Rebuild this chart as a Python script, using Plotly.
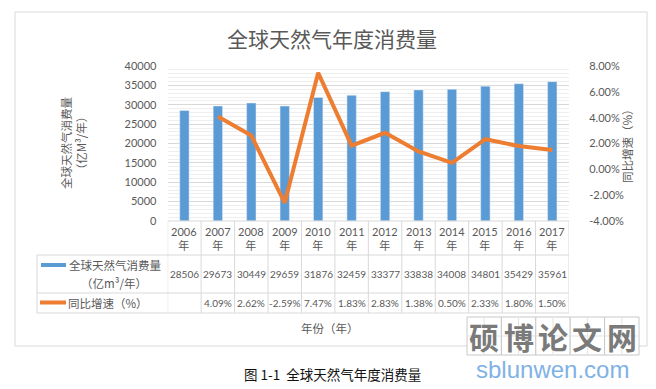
import plotly.graph_objects as go

# ---- data ----
years = ["2006", "2007", "2008", "2009", "2010", "2011", "2012", "2013", "2014", "2015", "2016", "2017"]
consumption = [28506, 29673, 30449, 29659, 31876, 32459, 33377, 33838, 34008, 34801, 35429, 35961]
growth = [None, 4.09, 2.62, -2.59, 7.47, 1.83, 2.83, 1.38, 0.50, 2.33, 1.80, 1.50]
y1_ticks = [0, 5000, 10000, 15000, 20000, 25000, 30000, 35000, 40000]
y2_ticks = [-4, -2, 0, 2, 4, 6, 8]
y2_ticktext = ["-4.00%", "-2.00%", "0.00%", "2.00%", "4.00%", "6.00%", "8.00%"]
series1_name = "全球天然气消费量"
series1_unit = "（亿m³/年）"
series2_name = "同比增速（%）"

W, H = 656, 389
FONT = "Lato, 'Noto Sans CJK SC', sans-serif"
CJK = "'Noto Sans CJK SC', sans-serif"
GREY = "#595959"
LINE = "#D9D9D9"
BLUE = "#5B9BD5"
ORANGE = "#ED7D31"


def px(x):
    return x / W


def py(y):
    return 1 - y / H


x_left, x_right = 167.7, 569.0
y_top, y_bot = 66.0, 221.0

cats = [f"{y}年" for y in years]

fig = go.Figure()
fig.add_trace(go.Bar(x=cats, y=consumption, marker_color=BLUE, width=0.28,
                     name=series1_name, yaxis="y"))
fig.add_trace(go.Scatter(x=cats, y=growth, mode="lines", line=dict(color=ORANGE, width=4),
                         name=series2_name, yaxis="y2", connectgaps=False))

shapes = []
annotations = []


def ann(x, y, text, size, family=CJK, color=GREY, xanchor="center", xref="paper", **kw):
    annotations.append(dict(x=x, y=y, xref=xref, yref="paper", text=text, showarrow=False,
                            xanchor=xanchor, yanchor="middle",
                            font=dict(family=family, size=size, color=color), **kw))


# chart border
shapes.append(dict(type="rect", xref="paper", yref="paper", x0=px(15), x1=px(647), y0=py(12), y1=py(346),
                   line=dict(color=LINE, width=1), fillcolor="rgba(0,0,0,0)", layer="below"))

# table rows (pixel y)
r0, r1, r2, r3 = 221.0, 255.0, 293.0, 313.0
shapes.append(dict(type="line", xref="x", yref="paper", x0=-0.5, x1=11.5, y0=py(r0), y1=py(r0),
                   line=dict(color=LINE, width=1)))
for ry in (r1, r2, r3):
    shapes.append(dict(type="line", xref="paper", yref="paper", x0=px(37), x1=px(x_right), y0=py(ry), y1=py(ry),
                       line=dict(color=LINE, width=1)))
for i in range(len(years) + 1):
    shapes.append(dict(type="line", xref="x", yref="paper", x0=i - 0.5, x1=i - 0.5, y0=py(r0), y1=py(r3),
                       line=dict(color=LINE, width=1)))
shapes.append(dict(type="line", xref="paper", yref="paper", x0=px(37), x1=px(37), y0=py(r1), y1=py(r3),
                   line=dict(color=LINE, width=1)))

# table texts
for i, y in enumerate(years):
    ann(i, py(238), f"{y}<br>年", 11, family=FONT, xref="x", align="center")
    ann(i, py(274), f"{consumption[i]}", 10, family=FONT, xref="x")
    if growth[i] is not None:
        ann(i, py(303), f"{growth[i]:.2f}%", 10, family=FONT, xref="x")

# legend cells
shapes.append(dict(type="rect", xref="paper", yref="paper", x0=px(41), x1=px(66), y0=py(267), y1=py(263),
                   line=dict(width=0), fillcolor=BLUE))
shapes.append(dict(type="line", xref="paper", yref="paper", x0=px(40), x1=px(66), y0=py(302.5), y1=py(302.5),
                   line=dict(color=ORANGE, width=4)))
ann(px(67), py(265), series1_name, 11.5, xanchor="left")
ann(px(114), py(283), series1_unit, 11.5)
ann(px(66), py(302.5), series2_name, 11.5, xanchor="left")

# x title
ann(px(330), py(328), "年份（年）", 11.5)

# chart title
ann(px(332), py(38), "全球天然气年度消费量", 21)

# axis titles
ann(px(73), py(143), "全球天然气消费量<br>（亿M³/年）", 11.5, textangle=-90)
ann(px(627), py(143), "同比增速（%）", 11.5, textangle=-90)

# caption
ann(px(333), py(374), "图 1-1  全球天然气年度消费量", 13.5, family="'Noto Sans CJK SC', serif", color="#111111")

# watermark
wm_chars = ["硕", "博", "论", "文", "网"]
bx0, bw, by0, by1 = 467.0, 34.4, 317.0, 355.0
for k, ch in enumerate(wm_chars):
    x0 = bx0 + k * bw
    shapes.append(dict(type="rect", xref="paper", yref="paper", x0=px(x0), x1=px(x0 + bw), y0=py(by1), y1=py(by0),
                       line=dict(color="#C8C8C8", width=1), fillcolor="white"))
    shapes.append(dict(type="line", xref="paper", yref="paper", x0=px(x0 + bw / 2), x1=px(x0 + bw / 2),
                       y0=py(by1), y1=py(by0), line=dict(color="#E3E3E3", width=1)))
    shapes.append(dict(type="line", xref="paper", yref="paper", x0=px(x0), x1=px(x0 + bw),
                       y0=py((by0 + by1) / 2), y1=py((by0 + by1) / 2), line=dict(color="#E3E3E3", width=1)))
    ann(px(x0 + bw / 2), py((by0 + by1) / 2), f"<b>{ch}</b>", 30, color="#7A7A7A")
ann(px(552), py(369), "sblunwen.com", 24, family="'Liberation Sans', Arial, sans-serif", color="#7FB2E5")

fig.update_layout(
    width=W, height=H, autosize=False,
    margin=dict(l=0, r=0, t=0, b=0, autoexpand=False),
    paper_bgcolor="white", plot_bgcolor="white",
    showlegend=False,
    font=dict(family=FONT, color=GREY, size=11),
    xaxis=dict(domain=[px(x_left), px(x_right)], type="category", categoryorder="array", categoryarray=cats,
               range=[-0.5, 11.5], showticklabels=False, showline=False, showgrid=False, ticks="",
               zeroline=False, automargin=False),
    yaxis=dict(domain=[py(y_bot), py(y_top)], range=[0, 40000], tickvals=y1_ticks, tickformat="d",
               showgrid=True, gridcolor=LINE, gridwidth=1, zeroline=False, showline=False, automargin=False,
               ticks="outside", ticklen=8, tickcolor="rgba(0,0,0,0)",
               tickfont=dict(family=FONT, size=11, color=GREY),
               minor=dict(dtick=1000, showgrid=True, gridcolor="#EFEFEF", gridwidth=1, ticks="")),
    yaxis2=dict(overlaying="y", side="right", anchor="x", range=[-4, 8], tickvals=y2_ticks, ticktext=y2_ticktext,
                showgrid=False, zeroline=False, showline=False, automargin=False,
                ticks="outside", ticklen=17, tickcolor="rgba(0,0,0,0)",
                tickfont=dict(family=FONT, size=11, color=GREY)),
    shapes=shapes,
    annotations=annotations,
)

fig.write_html("out.html", config={"displayModeBar": False},
               post_script="document.body.style.margin='0';document.body.style.overflow='hidden';")
